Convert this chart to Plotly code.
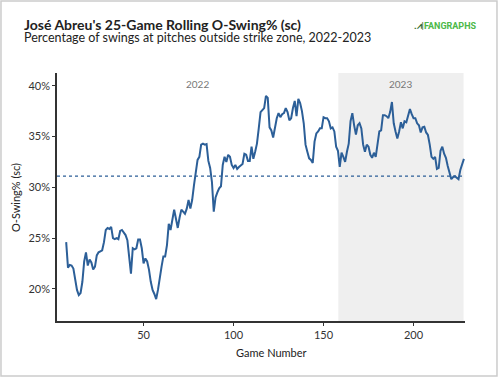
import plotly.graph_objects as go

title_text = "José Abreu's 25-Game Rolling O-Swing% (sc)"
subtitle_text = "Percentage of swings at pitches outside strike zone, 2022-2023"

games = list(range(7, 229))
o_swing = [
    24.6, 22.1, 22.35, 22.3, 22.0, 20.9, 19.9, 19.4, 19.6, 20.7,   # 7-16
    22.7, 23.6, 22.3, 22.9, 22.6, 21.9, 22.2, 23.3, 23.6, 23.7,    # 17-26
    23.8, 24.6, 25.8, 26.0, 25.9, 26.1, 25.0, 24.9, 25.0, 24.9,    # 27-36
    25.7, 25.8, 25.6, 25.3, 24.8, 23.0, 21.5, 24.0, 23.9, 24.0,    # 37-46
    24.85, 24.85, 24.0, 22.5, 23.0, 22.7, 21.9, 20.7, 19.9, 19.5,  # 47-56
    19.0, 19.9, 21.2, 22.2, 23.2, 23.2, 24.3, 26.4, 25.8, 26.9,    # 57-66
    27.8, 26.9, 26.0, 27.0, 27.8, 27.6, 27.4, 27.9, 28.75, 27.9,   # 67-76
    28.75, 30.2, 31.7, 32.7, 33.0, 34.2, 34.3, 34.2, 34.25, 32.6,  # 77-86
    31.9, 30.5, 27.6, 29.0, 29.5, 29.9, 30.1, 32.2, 33.0, 32.5,    # 87-96
    33.2, 33.0, 32.2, 31.9, 32.2, 31.8, 32.0, 32.2, 32.3, 33.3,    # 97-106
    33.2, 32.6, 32.6, 34.0, 32.8, 33.5, 34.3, 35.8, 37.4, 37.6,    # 107-116
    37.8, 39.0, 38.8, 35.9, 35.6, 34.9, 36.0, 36.8, 37.3, 36.9,    # 117-126
    37.2, 37.3, 37.8, 37.4, 36.6, 36.8, 37.8, 38.5, 37.0, 38.7,    # 127-136
    38.3, 37.5, 36.3, 34.2, 33.5, 32.85, 32.7, 32.4, 34.5, 35.3,   # 137-146
    35.5, 35.8, 35.8, 36.9, 36.8, 36.8, 36.5, 35.8, 35.9, 35.5,    # 147-156
    34.0, 33.6, 32.0, 33.4, 33.0, 32.5, 33.5, 34.3, 36.5, 37.3,    # 157-166
    36.1, 35.2, 36.1, 36.3, 35.8, 34.2, 33.5, 34.2, 34.0, 33.2,    # 167-176
    32.9, 33.4, 33.0, 34.2, 35.5, 35.6, 37.1, 37.1, 37.0, 36.8,    # 177-186
    37.4, 38.4, 36.3, 35.5, 34.8, 35.5, 36.4, 35.8, 36.5, 36.4,    # 187-196
    37.1, 37.7, 37.2, 36.8, 36.8, 36.3, 36.1, 35.4, 35.9, 35.96,   # 197-206
    35.4, 35.15, 34.2, 33.0, 32.8, 33.0, 31.8, 31.9, 33.6, 34.0,   # 207-216
    33.3, 32.9, 32.1, 31.4, 30.8, 31.0, 31.1, 30.95, 30.8, 31.7,   # 217-226
    32.2, 32.8,                                                    # 227-228
]
average_value = 31.1
season_labels = ["2022", "2023"]
season_2023_start = 158.2
last_game = 227.8

x_ticks = [50, 100, 150, 200]
y_ticks = [20, 25, 30, 35, 40]
y_tick_labels = ["20%", "25%", "30%", "35%", "40%"]

line_color = "#2c5f98"
font_family = "Lato, 'Open Sans', sans-serif"

x_range = [1.9, 228.6]
y_range = [16.84, 41.25]

fig = go.Figure()

fig.add_trace(go.Scatter(
    x=games, y=o_swing, mode="lines",
    line=dict(color=line_color, width=2),
    hoverinfo="skip", showlegend=False,
))

shapes = [
    # 2023 shaded region
    dict(type="rect", xref="x", yref="paper", x0=season_2023_start, x1=last_game,
         y0=0, y1=1, fillcolor="#efefef", line=dict(width=0), layer="below"),
    # average dotted line
    dict(type="line", xref="paper", yref="y", x0=0, x1=1,
         y0=average_value, y1=average_value,
         line=dict(color=line_color, width=1.2, dash="dot"), layer="above"),
    # outer border
    dict(type="rect", xref="paper", yref="paper", x0=-0.1373, x1=1.0784,
         y0=-0.2218, y1=1.2903, line=dict(color="#cccccc", width=1.5),
         fillcolor="rgba(0,0,0,0)", layer="below"),
]

heading = ("<span style='font-size:14px'><b>" + title_text + "</b></span><br>"
           "<span style='font-size:12.5px'>" + subtitle_text + "</span>")

annotations = [
    dict(text=heading, xref="paper", yref="paper", align="left",
         x=-0.0858, y=1.172, xanchor="left", yanchor="middle", showarrow=False,
         font=dict(family=font_family, size=9.5, color="#222222")),
    dict(text="<b><span style='color:#2d6b2d'>.⩘|</span>FANGRAPHS</b>", xref="paper", yref="paper",
         x=1.035, y=1.19, xanchor="right", yanchor="middle", showarrow=False,
         font=dict(family="Roboto, sans-serif", size=9, color="#4cb848")),
    dict(text=season_labels[0], xref="x", yref="paper", x=(x_range[0] + season_2023_start) / 2,
         y=0.956, showarrow=False, xanchor="center", yanchor="middle",
         font=dict(family=font_family, size=10, color="#777777")),
    dict(text=season_labels[1], xref="x", yref="paper", x=(season_2023_start + last_game) / 2,
         y=0.956, showarrow=False, xanchor="center", yanchor="middle",
         font=dict(family=font_family, size=10, color="#777777")),
    dict(text="Game Number", xref="paper", yref="paper", x=0.526, y=-0.129,
         showarrow=False, xanchor="center", yanchor="middle",
         font=dict(family=font_family, size=11, color="#222222")),
    dict(text="O-Swing% (sc)", xref="paper", yref="paper", x=-0.103, y=0.5,
         textangle=-90, showarrow=False, xanchor="center", yanchor="middle",
         font=dict(family=font_family, size=11, color="#222222")),
]

fig.update_layout(
    width=498, height=377,
    margin=dict(l=57, r=33, t=73, b=56),
    paper_bgcolor="white", plot_bgcolor="white",
    shapes=shapes, annotations=annotations,
    font=dict(family=font_family, size=11, color="#333333"),
    xaxis=dict(range=x_range, tickvals=x_ticks, showgrid=False, zeroline=False,
               showline=True, linecolor="#333333", linewidth=1.5,
               ticks="outside", ticklen=3, tickcolor="#333333", tickwidth=1,
               tickfont=dict(size=11, color="#333333")),
    yaxis=dict(range=y_range, tickvals=y_ticks, ticktext=y_tick_labels,
               showgrid=False, zeroline=False,
               showline=True, linecolor="#333333", linewidth=1.5,
               ticks="outside", ticklen=3, tickcolor="#333333", tickwidth=1,
               tickfont=dict(size=11, color="#333333")),
)

fig.write_html("out.html", config={"displayModeBar": False},
               post_script="document.body.style.margin='0px';")
